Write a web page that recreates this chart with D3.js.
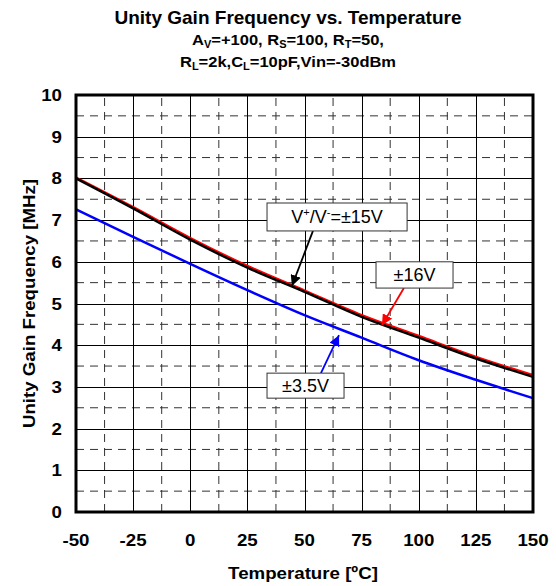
<!DOCTYPE html>
<html>
<head>
<meta charset="utf-8">
<script src="https://cdn.jsdelivr.net/npm/d3@7"></script>
<style>
  body { margin: 0; background: #fff; }
  text { font-family: "Liberation Sans", Arial, sans-serif; font-weight: bold; }
  text.note { font-weight: normal; }
</style>
</head>
<body>
<script>
// Data
const temps = [-50, -25, 0, 25, 50, 75, 100, 125, 150];
const v15 = [8.00, 7.28, 6.53, 5.86, 5.28, 4.68, 4.18, 3.68, 3.24];
const v16 = [8.02, 7.31, 6.57, 5.90, 5.31, 4.72, 4.22, 3.72, 3.28];
const v35 = [7.26, 6.60, 5.95, 5.32, 4.72, 4.18, 3.64, 3.17, 2.73];
const xTicks = [-50, -25, 0, 25, 50, 75, 100, 125, 150];
const yTicks = [0, 1, 2, 3, 4, 5, 6, 7, 8, 9, 10];

// label boxes in data units: [x0, yTop, x1, yBottom], arrow from -> tip
const notes = [
  {text: "15", color: "black", box: [33.6, 7.41, 94.9, 6.74], from: [53.7, 6.74], tip: [44.5, 5.42]},
  {text: "±16V", color: "red", box: [81.3, 6.0, 115, 5.37], from: [93.5, 5.37], tip: [83.9, 4.48]},
  {text: "±3.5V", color: "blue", box: [33.6, 3.33, 67.3, 2.73], from: [57.2, 3.33], tip: [65.1, 4.24]}
];

const W = 556, H = 586;
const margin = {left: 76, right: 23, top: 95, bottom: 74};
const stretch = 1.1;

const svg = d3.select("body").append("svg")
    .attr("width", W)
    .attr("height", H);

const x = d3.scaleLinear().domain([-50, 150]).range([margin.left, W - margin.right]);
const y = d3.scaleLinear().domain([0, 10]).range([H - margin.bottom, margin.top]);

// text that is a bit wider than the font, like the original
function wideText(px, py, size, anchor, rot) {
    return svg.append("g")
        .attr("transform", "translate(" + px + "," + py + ")" + (rot ? " rotate(" + rot + ")" : "") + " scale(" + stretch + ",1)")
        .append("text")
        .attr("text-anchor", anchor)
        .attr("font-size", size);
}

// Title
const cx = 288;
svg.append("text").attr("x", cx).attr("y", 24).attr("text-anchor", "middle")
    .attr("font-size", 19).text("Unity Gain Frequency vs. Temperature");

let t1 = wideText(cx, 45, 15, "middle");
t1.append("tspan").text("A");
t1.append("tspan").attr("font-size", 10).attr("dy", 3).text("V");
t1.append("tspan").attr("dy", -3).text("=+100, R");
t1.append("tspan").attr("font-size", 10).attr("dy", 3).text("S");
t1.append("tspan").attr("dy", -3).text("=100, R");
t1.append("tspan").attr("font-size", 10).attr("dy", 3).text("T");
t1.append("tspan").attr("dy", -3).text("=50,");

let t2 = wideText(cx, 67, 15, "middle");
t2.append("tspan").text("R");
t2.append("tspan").attr("font-size", 10).attr("dy", 3).text("L");
t2.append("tspan").attr("dy", -3).text("=2k,C");
t2.append("tspan").attr("font-size", 10).attr("dy", 3).text("L");
t2.append("tspan").attr("dy", -3).text("=10pF,Vin=-30dBm");

// Grid: dashed half steps, then solid major lines
const halfX = d3.range(-37.5, 150, 25);
const halfY = d3.range(0.5, 10, 1);
const grid = svg.append("g");
grid.selectAll(".hx").data(halfX).enter().append("line")
    .attr("x1", d => x(d)).attr("x2", d => x(d))
    .attr("y1", y(0)).attr("y2", y(10))
    .attr("stroke", "#333").attr("stroke-width", 1).attr("stroke-dasharray", "8,6");
grid.selectAll(".hy").data(halfY).enter().append("line")
    .attr("x1", x(-50)).attr("x2", x(150))
    .attr("y1", d => y(d)).attr("y2", d => y(d))
    .attr("stroke", "#333").attr("stroke-width", 1).attr("stroke-dasharray", "8,6");
grid.selectAll(".mx").data(xTicks.slice(1, -1)).enter().append("line")
    .attr("x1", d => Math.round(x(d)) + 0.5).attr("x2", d => Math.round(x(d)) + 0.5)
    .attr("y1", y(0)).attr("y2", y(10))
    .attr("stroke", "#000").attr("stroke-width", 1);
grid.selectAll(".my").data(yTicks.slice(1, -1)).enter().append("line")
    .attr("x1", x(-50)).attr("x2", x(150))
    .attr("y1", d => Math.round(y(d)) + 0.5).attr("y2", d => Math.round(y(d)) + 0.5)
    .attr("stroke", "#000").attr("stroke-width", 1);

// Curves
const line = d3.line()
    .x((d, i) => x(temps[i]))
    .y(d => y(d))
    .curve(d3.curveMonotoneX);

svg.append("path").attr("d", line(v35)).attr("fill", "none").attr("stroke", "#0000ff").attr("stroke-width", 2.5);
svg.append("path").attr("d", line(v16)).attr("fill", "none").attr("stroke", "#ff0000").attr("stroke-width", 2.5);
svg.append("path").attr("d", line(v15)).attr("fill", "none").attr("stroke", "#000").attr("stroke-width", 2.5);

// Frame
svg.append("rect")
    .attr("x", x(-50)).attr("y", y(10))
    .attr("width", x(150) - x(-50)).attr("height", y(0) - y(10))
    .attr("fill", "none").attr("stroke", "#000").attr("stroke-width", 3);

// Tick labels
xTicks.forEach(d => wideText(x(d), 546, 17, "middle").text(d));
yTicks.forEach(d => wideText(62, y(d) + 6, 17, "end").text(d));

// Axis titles
wideText(303, 579, 17, "middle").text("Temperature [ºC]");
wideText(35, (y(0) + y(10)) / 2, 17, "middle", -90).text("Unity Gain Frequency [MHz]");

// Annotations
const defs = svg.append("defs");
notes.forEach((n, i) => {
    defs.append("marker").attr("id", "arr" + i)
        .attr("viewBox", "0 0 10 10").attr("refX", 10).attr("refY", 5)
        .attr("markerWidth", 6).attr("markerHeight", 6).attr("orient", "auto")
        .attr("markerUnits", "strokeWidth")
        .append("path").attr("d", "M0,0L10,5L0,10z").attr("fill", n.color);

    svg.append("line")
        .attr("x1", x(n.from[0])).attr("y1", y(n.from[1]))
        .attr("x2", x(n.tip[0])).attr("y2", y(n.tip[1]))
        .attr("stroke", n.color).attr("stroke-width", 1.8)
        .attr("marker-end", "url(#arr" + i + ")");

    const bx = x(n.box[0]), by = y(n.box[1]);
    const bw = x(n.box[2]) - bx, bh = y(n.box[3]) - by;
    svg.append("rect").attr("x", bx).attr("y", by).attr("width", bw).attr("height", bh)
        .attr("fill", "#fff").attr("stroke", "#333").attr("stroke-width", 1);

    const t = svg.append("text").attr("class", "note")
        .attr("x", bx + bw / 2).attr("y", by + bh / 2 + 6.5)
        .attr("text-anchor", "middle").attr("font-size", 18);
    if (n.text === "15") {
        t.append("tspan").text("V");
        t.append("tspan").attr("font-size", 11).attr("dy", -7).text("+");
        t.append("tspan").attr("dy", 7).text("/V");
        t.append("tspan").attr("font-size", 11).attr("dy", -7).text("-");
        t.append("tspan").attr("dy", 7).text("=±15V");
    } else {
        t.text(n.text);
    }
});
</script>
</body>
</html>
